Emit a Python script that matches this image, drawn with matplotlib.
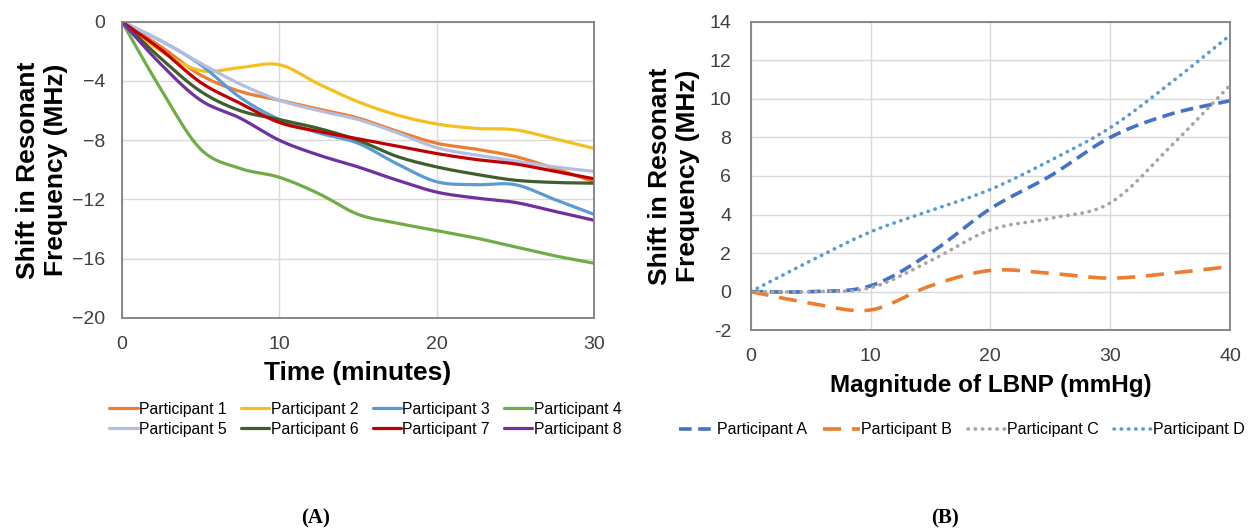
import numpy as np
import matplotlib
matplotlib.use("Agg")
import matplotlib.pyplot as plt

plt.rcParams['font.family'] = ['Liberation Sans', 'DejaVu Sans']

# Panel A: shift vs time, eight participants
time_min = [0, 2.5, 5, 7.5, 10, 12.5, 15, 17.5, 20, 22.5, 25, 27.5, 30]
p1 = [0, -1.7, -3.6, -4.7, -5.3, -5.9, -6.5, -7.4, -8.2, -8.6, -9.1, -9.9, -10.8]
p2 = [0, -2.0, -3.3, -3.1, -2.9, -4.2, -5.4, -6.3, -6.9, -7.2, -7.3, -7.9, -8.55]
p3 = [0, -1.3, -2.9, -5.1, -6.6, -7.5, -8.2, -9.6, -10.8, -11.0, -11.0, -12.0, -13.0]
p4 = [0, -4.6, -8.6, -9.9, -10.5, -11.6, -13.0, -13.6, -14.1, -14.6, -15.2, -15.8, -16.3]
p5 = [0, -1.3, -2.8, -4.2, -5.3, -6.0, -6.6, -7.5, -8.5, -9.0, -9.4, -9.8, -10.1]
p6 = [0, -2.5, -4.7, -6.0, -6.6, -7.2, -8.0, -9.1, -9.8, -10.3, -10.7, -10.85, -10.9]
p7 = [0, -1.9, -4.1, -5.5, -6.8, -7.4, -7.9, -8.4, -8.9, -9.3, -9.6, -10.1, -10.6]
p8 = [0, -2.9, -5.3, -6.5, -8.0, -9.0, -9.8, -10.7, -11.5, -11.9, -12.2, -12.8, -13.4]
labels_a = ['Participant 1', 'Participant 2', 'Participant 3', 'Participant 4',
            'Participant 5', 'Participant 6', 'Participant 7', 'Participant 8']
colors_a = ['#ED7D31', '#F5C01E', '#5B9BD5', '#70AD47',
            '#B4BFE0', '#3E5F2B', '#C00000', '#7030A0']

# Panel B: shift vs LBNP magnitude, four participants
lbnp = [0, 5, 10, 15, 20, 25, 30, 35, 40]
pa = [0, 0.0, 0.3, 2.0, 4.3, 6.0, 8.0, 9.2, 9.9]
pb = [0, -0.6, -0.95, 0.3, 1.1, 0.95, 0.7, 0.95, 1.3]
pc = [0, 0.0, 0.2, 1.6, 3.2, 3.8, 4.6, 7.5, 10.7]
pd = [0, 1.6, 3.1, 4.2, 5.3, 6.8, 8.5, 10.8, 13.3]
labels_b = ['Participant A', 'Participant B', 'Participant C', 'Participant D']
colors_b = ['#4472C4', '#ED7D31', '#A5A5A5', '#5B9BD5']


def smooth(x, y, n=20):
    # Catmull-Rom curve through the points, like a spreadsheet "smoothed line"
    x = np.asarray(x, float)
    y = np.asarray(y, float)
    xs, ys = [], []
    for i in range(len(x) - 1):
        x0, y0 = (x[i - 1], y[i - 1]) if i > 0 else (x[i], y[i])
        x3, y3 = (x[i + 2], y[i + 2]) if i + 2 < len(x) else (x[i + 1], y[i + 1])
        t = np.linspace(0, 1, n, endpoint=False)
        cx = [x[i], x[i] + (x[i + 1] - x0) / 6, x[i + 1] - (x3 - x[i]) / 6, x[i + 1]]
        cy = [y[i], y[i] + (y[i + 1] - y0) / 6, y[i + 1] - (y3 - y[i]) / 6, y[i + 1]]
        b = [(1 - t) ** 3, 3 * (1 - t) ** 2 * t, 3 * (1 - t) * t ** 2, t ** 3]
        xs.append(sum(bi * c for bi, c in zip(b, cx)))
        ys.append(sum(bi * c for bi, c in zip(b, cy)))
    xs.append([x[-1]])
    ys.append([y[-1]])
    return np.concatenate(xs), np.concatenate(ys)


fig = plt.figure(figsize=(12.52, 5.3), dpi=100)
tick_col = '#404040'
grid_col = '#D9D9D9'
spine_col = '#808080'

# ---- Panel A
ax1 = fig.add_axes([0.0974, 0.400, 0.377, 0.559])
lines_a = []
for ys, lab, col in zip([p1, p2, p3, p4, p5, p6, p7, p8], labels_a, colors_a):
    sx, sy = smooth(time_min, ys)
    ln, = ax1.plot(sx, sy, color=col, lw=2.3, label=lab, solid_capstyle='round')
    lines_a.append(ln)
ax1.set_xlim(0, 30)
ax1.set_ylim(-20, 0)
ax1.set_xticks([0, 10, 20, 30])
ax1.set_yticks([0, -4, -8, -12, -16, -20])
ax1.set_yticklabels(['0', '\u22124', '\u22128', '\u221212', '\u221216', '\u221220'])
ax1.set_xlabel('Time (minutes)', fontsize=19, fontweight='bold', labelpad=6)
ax1.set_ylabel('Shift in Resonant\nFrequency (MHz)', fontsize=19, fontweight='bold', labelpad=3)

# legend filled row by row (1-4 on top, 5-8 below)
order = [0, 4, 1, 5, 2, 6, 3, 7]
fig.legend([lines_a[i] for i in order], [labels_a[i] for i in order],
           loc='center', bbox_to_anchor=(0.292, 0.209), ncol=4, frameon=False,
           fontsize=11.3, handlelength=1.8, handletextpad=0.1, columnspacing=0.9,
           labelspacing=0.3)

# ---- Panel B
ax2 = fig.add_axes([0.5996, 0.377, 0.3828, 0.582])
styles = [dict(ls=(0, (3.5, 1.8)), lw=2.6),
          dict(ls=(0, (5, 3)), lw=2.6),
          dict(ls=(0, (0.1, 1.9)), lw=2.6, dash_capstyle='round'),
          dict(ls=(0, (0.1, 1.9)), lw=2.6, dash_capstyle='round')]
for ys, lab, col, st in zip([pa, pb, pc, pd], labels_b, colors_b, styles):
    sx, sy = smooth(lbnp, ys)
    ax2.plot(sx, sy, color=col, label=lab, **st)
ax2.set_xlim(0, 40)
ax2.set_ylim(-2, 14)
ax2.set_xticks([0, 10, 20, 30, 40])
ax2.set_yticks(list(range(-2, 15, 2)))
ax2.set_yticklabels([str(v) for v in range(-2, 15, 2)])
ax2.set_xlabel('Magnitude of LBNP (mmHg)', fontsize=17.5, fontweight='bold', labelpad=6)
ax2.set_ylabel('Shift in Resonant\nFrequency (MHz)', fontsize=19, fontweight='bold', labelpad=7)
fig.legend(loc='center', bbox_to_anchor=(0.768, 0.189), ncol=4, frameon=False,
           handles=ax2.get_lines(), fontsize=11.5, handlelength=2.3, handletextpad=0.1,
           columnspacing=1.0)

for ax in (ax1, ax2):
    ax.grid(True, color=grid_col, lw=1)
    ax.set_axisbelow(True)
    ax.tick_params(length=0, labelsize=14, colors=tick_col)
    ax.tick_params(axis='x', pad=13)
    ax.tick_params(axis='y', pad=12)
    for s in ax.spines.values():
        s.set_color(spine_col)
        s.set_linewidth(1.3)
ax2.tick_params(axis='y', pad=14)

fig.text(0.252, 0.012, '(A)', fontsize=15, fontweight='bold', family='Liberation Serif', ha='center')
fig.text(0.755, 0.012, '(B)', fontsize=15, fontweight='bold', family='Liberation Serif', ha='center')

fig.savefig('out.png', dpi=100)
